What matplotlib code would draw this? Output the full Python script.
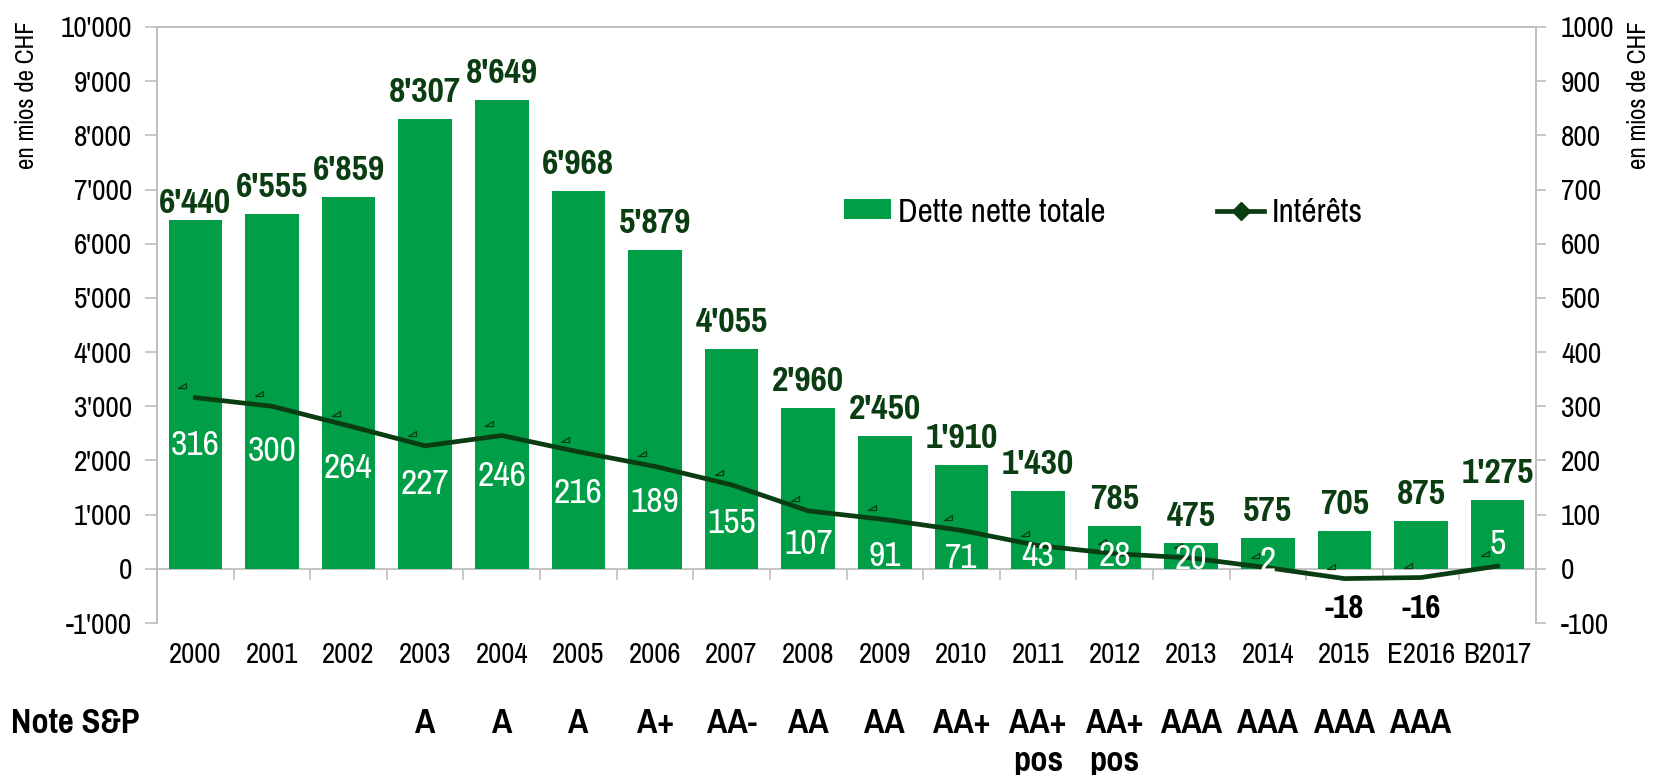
import matplotlib

matplotlib.use("Agg")
import matplotlib.pyplot as plt
from matplotlib.lines import Line2D
from matplotlib.patches import Patch
from matplotlib.path import Path
from matplotlib import transforms

# --- data ---
years = ["2000", "2001", "2002", "2003", "2004", "2005", "2006", "2007", "2008",
         "2009", "2010", "2011", "2012", "2013", "2014", "2015", "E2016", "B2017"]
dette = [6440, 6555, 6859, 8307, 8649, 6968, 5879, 4055, 2960,
         2450, 1910, 1430, 785, 475, 575, 705, 875, 1275]
interets = [316, 300, 264, 227, 246, 216, 189, 155, 107,
            91, 71, 43, 28, 20, 2, -18, -16, 5]
notes = ["", "", "", "A", "A", "A", "A+", "AA-", "AA",
         "AA", "AA+", "AA+\npos", "AA+\npos", "AAA", "AAA", "AAA", "AAA", ""]

# label placement as in the original (pixels)
int_lbl_dy = [47, 45, 42, 38, 40, 41, 36, 38, 33, 36, 28, 10, 2, 1, -7, 30, 31, -22]
dette_lbl_dy = [1] + [11] * (len(dette) - 1)

GREEN = "#009e47"
DARK = "#0b3d12"
GRID = "#bfbfbf"
FONT = ["Pragati Narrow", "Liberation Sans Narrow", "DejaVu Sans"]
plt.rcParams["font.family"] = FONT

fig = plt.figure(figsize=(16.67, 7.75), dpi=100)
ax = fig.add_axes([0.0942, 0.1961, 0.8272, 0.7691])
ax2 = ax.twinx()

x = list(range(len(years)))
ax.bar(x, dette, width=0.7, color=GREEN, zorder=2)
ax.set_xlim(-0.5, len(years) - 0.5)
ax.set_ylim(-1000, 10000)
ax2.set_ylim(-100, 1000)

ax.set_yticks(range(-1000, 10001, 1000))
ax.set_yticklabels([f"{v:,}".replace(",", "'") for v in range(-1000, 10001, 1000)])
ax2.set_yticks(range(-100, 1001, 100))
ax2.set_yticklabels([str(v) for v in range(-100, 1001, 100)])
ax.set_xticks(x)
ax.set_xticklabels(years)

ax.tick_params(axis="y", direction="out", length=9, width=1.2, color=GRID, pad=9, labelsize=23)
ax2.tick_params(axis="y", direction="out", length=7, width=1.2, color=GRID, pad=11, labelsize=23)
ax.tick_params(axis="x", length=0, pad=13, labelsize=22.5)

for a in (ax, ax2):
    for side in ("left", "right", "top"):
        a.spines[side].set_color(GRID)
        a.spines[side].set_linewidth(1.3)
    a.spines["bottom"].set_visible(False)

# zero axis with category separators
zero = ax.secondary_xaxis(1000 / 11000)
zero.set_xticks([i + 0.5 for i in x[:-1]])
zero.set_xticklabels([])
zero.tick_params(direction="out", length=8, width=1.2, color=GRID)
zero.spines["bottom"].set_color(GRID)
zero.spines["bottom"].set_linewidth(1.3)

# bar value labels
for xi, v, dy in zip(x, dette, dette_lbl_dy):
    ax.annotate(f"{v:,}".replace(",", "'"), (xi, v), xytext=(0, dy * 0.72), textcoords="offset points",
                ha="center", va="bottom", fontsize=28, fontweight="bold", color=DARK, zorder=5)

# interest line
ax2.plot(x, interets, color=DARK, linewidth=3.4, zorder=4)
tri = Path([(-1, -0.6), (1, -0.6), (1, 0.6), (-1, -0.6)],
           [Path.MOVETO, Path.LINETO, Path.LINETO, Path.CLOSEPOLY])
ax2.plot(x, interets, linestyle="none", marker=tri, markersize=6, markeredgewidth=0.9,
         markeredgecolor=DARK, markerfacecolor="none",
         transform=transforms.offset_copy(ax2.transData, fig, x=-13, y=13, units="dots"), zorder=4)

for xi, v, dy in zip(x, interets, int_lbl_dy):
    neg = v < 0
    ax2.annotate(str(v), (xi, v), xytext=(0, -dy * 0.72), textcoords="offset points",
                 ha="center", va="center", fontsize=28 if not neg else 26,
                 fontweight="bold" if neg else "normal",
                 color="black" if neg else "white", zorder=6)

# legend
handles = [Patch(facecolor=GREEN, edgecolor="none"),
           Line2D([], [], color=DARK, linewidth=3.4, marker="D", markersize=9)]
ax.legend(handles, ["Dette nette totale", "Intérêts"], ncol=2, loc="center left",
          bbox_to_anchor=(0.498, 0.688), frameon=False, fontsize=26, borderpad=0,
          borderaxespad=0, handlelength=1.3, handleheight=0.47, handletextpad=0.2,
          columnspacing=3.1)

# axis titles
fig.text(0.0156, 0.877, "en mios de CHF", rotation=90, ha="center", va="center", fontsize=19.5)
fig.text(0.9832, 0.877, "en mios de CHF", rotation=90, ha="center", va="center", fontsize=19.5)

# S&P ratings row
fig.text(0.0066, 1 - 723 / 775, "Note S&P", ha="left", va="center", fontsize=27, fontweight="bold")
for xi, note in zip(x, notes):
    for k, line in enumerate(note.split("\n")):
        if not line:
            continue
        ax.text(xi, 1 - (723 + 38 * k) / 775, line, ha="center", va="center",
                fontsize=27, fontweight="bold",
                transform=transforms.blended_transform_factory(ax.transData, fig.transFigure))

fig.savefig("out.png", dpi=100, facecolor="white")
